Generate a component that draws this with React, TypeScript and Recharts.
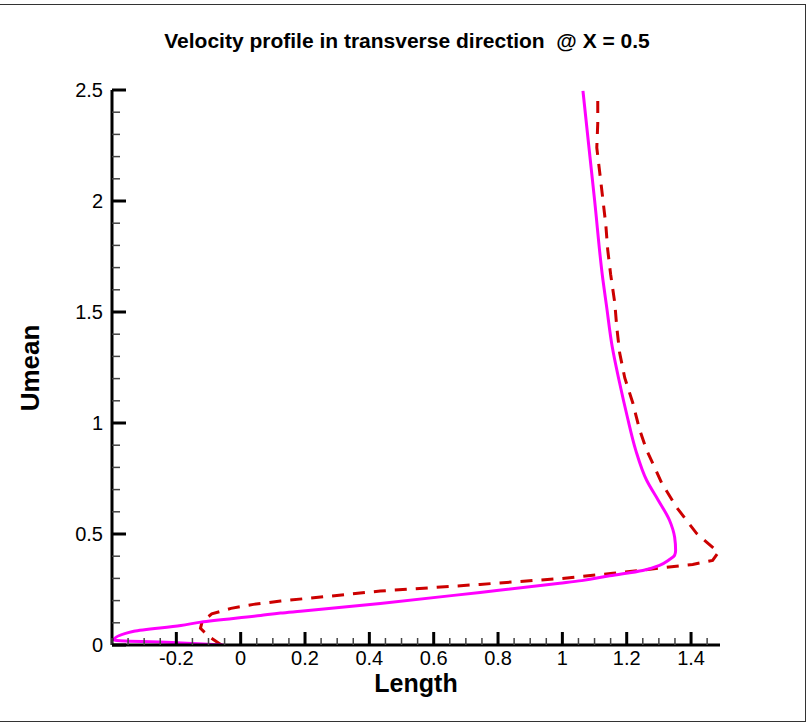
import { LineChart, Line, XAxis, YAxis } from 'recharts'

// magenta solid profile (Length, Umean)
const solidX = [-0.053, -0.2, -0.394, -0.332, -0.186, -0.124, 0.062, 0.124, 0.186, 0.434, 0.744, 0.992, 1.06, 1.147, 1.25, 1.302, 1.333, 1.349, 1.352, 1.349, 1.333, 1.298, 1.262, 1.228, 1.202, 1.178, 1.155, 1.137, 1.126, 1.1, 1.082, 1.064]
const solidY = [0.0, 0.01, 0.022, 0.062, 0.088, 0.103, 0.133, 0.144, 0.152, 0.187, 0.237, 0.278, 0.29, 0.312, 0.336, 0.359, 0.385, 0.405, 0.426, 0.485, 0.562, 0.652, 0.742, 0.878, 1.027, 1.18, 1.343, 1.53, 1.645, 2.006, 2.25, 2.496]

// red dashed profile
const dashX = [-0.06, -0.1, -0.125, -0.12, -0.09, -0.03, 0.04, 0.124, 0.434, 0.744, 1.0, 1.157, 1.24, 1.324, 1.405, 1.467, 1.485, 1.417, 1.355, 1.309, 1.262, 1.24, 1.219, 1.194, 1.178, 1.169, 1.163, 1.15, 1.141, 1.135, 1.126, 1.116, 1.107, 1.11, 1.11]
const dashY = [0.0, 0.04, 0.075, 0.105, 0.14, 0.165, 0.183, 0.198, 0.243, 0.273, 0.3, 0.323, 0.336, 0.35, 0.363, 0.381, 0.417, 0.503, 0.62, 0.729, 0.878, 0.97, 1.09, 1.203, 1.316, 1.433, 1.54, 1.67, 1.78, 1.893, 2.006, 2.13, 2.24, 2.35, 2.46]

const xLabels = ['-0.2', '0', '0.2', '0.4', '0.6', '0.8', '1', '1.2', '1.4']
const yLabels = ['0', '0.5', '1', '1.5', '2', '2.5']

const solid = solidX.map((x, i) => ({ x, y: solidY[i] }))
const dashed = dashX.map((x, i) => ({ x, y: dashY[i] }))

// minor ticks every 0.05 on x, 0.1 on y
const xTicks = Array.from({ length: 38 }, (_, i) => Math.round((-0.4 + i * 0.05) * 100) / 100)
const yTicks = Array.from({ length: 26 }, (_, i) => Math.round(i * 10) / 100)

const font = '"Liberation Sans", Arial, sans-serif'

const XTick = (props: any) => {
  const { x, y, payload } = props
  const v = payload.value
  const label = xLabels.find(l => Math.abs(parseFloat(l) - v) < 1e-6)
  const major = label !== undefined
  return (
    <g>
      <line x1={x} x2={x} y1={y} y2={y - (major ? 13 : 7)} stroke={major ? '#000' : '#444'} strokeWidth={major ? 3 : 1.5} />
      {major && (
        <text x={x} y={y + 20} textAnchor="middle" fontSize={20} fontFamily={font} fill="#000">{label}</text>
      )}
    </g>
  )
}

const YTick = (props: any) => {
  const { x, y, payload } = props
  const v = payload.value
  const label = yLabels.find(l => Math.abs(parseFloat(l) - v) < 1e-6)
  const major = label !== undefined
  return (
    <g>
      <line x1={x} x2={x + (major ? 14 : 8)} y1={y} y2={y} stroke={major ? '#000' : '#444'} strokeWidth={major ? 3 : 1.5} />
      {major && (
        <text x={x - 9} y={y + 7} textAnchor="end" fontSize={20} fontFamily={font} fill="#000">{label}</text>
      )}
    </g>
  )
}

export default function App() {
  return (
    <div style={{ position: 'absolute', left: 0, top: 0, width: 807, height: 722, background: '#fff', fontFamily: font }}>
      <div style={{
        position: 'absolute', left: 0, top: 4, width: 805, height: 716,
        borderTop: '1px solid #333', borderRight: '1px solid #333', borderBottom: '1px solid #333'
      }} />
      <div style={{
        position: 'absolute', left: 0, top: 29, width: 814, textAlign: 'center',
        fontSize: 21, fontWeight: 700, whiteSpace: 'pre', color: '#000'
      }}>
        {'Velocity profile in transverse direction  @ X = 0.5'}
      </div>
      <div style={{ position: 'absolute', left: 0, top: 0 }}>
        <LineChart width={807} height={722} margin={{ top: 90, right: 87, bottom: 47, left: 52 }}>
          <XAxis
            type="number" dataKey="x" domain={[-0.4, 1.49]} ticks={xTicks} interval={0}
            allowDataOverflow height={30} tickSize={0} tickMargin={0} tickLine={false}
            axisLine={{ stroke: '#000', strokeWidth: 3 }} tick={<XTick />}
          />
          <YAxis
            type="number" dataKey="y" domain={[0, 2.5]} ticks={yTicks} interval={0}
            allowDataOverflow width={60} tickSize={0} tickMargin={0} tickLine={false}
            axisLine={{ stroke: '#000', strokeWidth: 3 }} tick={<YTick />}
          />
          <Line data={dashed} dataKey="y" type="linear" stroke="#cc0000" strokeWidth={3}
            strokeDasharray="12 9" dot={false} isAnimationActive={false} />
          <Line data={solid} dataKey="y" type="monotoneY" stroke="#ff00ff" strokeWidth={3}
            dot={false} isAnimationActive={false} />
        </LineChart>
      </div>
      <div style={{
        position: 'absolute', left: 416, top: 671, transform: 'translateX(-50%)',
        fontSize: 25, lineHeight: '25px', fontWeight: 700
      }}>
        Length
      </div>
      <div style={{
        position: 'absolute', left: 30, top: 368, transform: 'translate(-50%, -50%) rotate(-90deg)',
        fontSize: 26, lineHeight: '26px', fontWeight: 700, whiteSpace: 'nowrap'
      }}>
        Umean
      </div>
    </div>
  )
}
